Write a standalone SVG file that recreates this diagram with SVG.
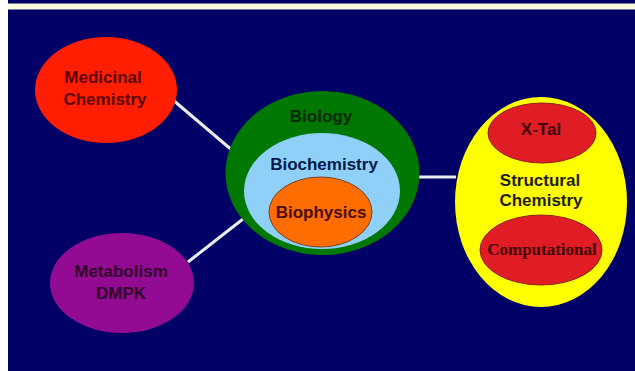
<svg xmlns="http://www.w3.org/2000/svg" width="635" height="371" viewBox="0 0 635 371">
<style>
text{font-family:"Liberation Sans",Arial,sans-serif;font-weight:bold;font-size:17px;text-anchor:middle}
.serif{font-family:"Liberation Serif","Times New Roman",serif}
.conn{stroke:#ececf4;stroke-width:3;fill:none}
</style>
<rect x="0" y="0" width="635" height="371" fill="#ffffff"/>
<rect x="8" y="0" width="627" height="371" fill="#000066"/>
<rect x="8" y="3.5" width="627" height="6" fill="#fafadc"/>
<g id="connectors">
<line class="conn" x1="173" y1="100" x2="233" y2="151"/>
<line class="conn" x1="188" y1="262" x2="243" y2="219"/>
<line class="conn" x1="417" y1="177" x2="456" y2="177"/>
</g>
<g id="medicinal">
<ellipse cx="106" cy="90" rx="71" ry="53" fill="#ff1e00"/>
<text x="103" y="83" fill="#5a0000">Medicinal</text>
<text x="105" y="105" fill="#5a0000">Chemistry</text>
</g>
<g id="metabolism">
<ellipse cx="122" cy="283" rx="72" ry="50" fill="#920b92"/>
<text x="121" y="277" fill="#30002a">Metabolism</text>
<text x="121" y="299" fill="#30002a">DMPK</text>
</g>
<g id="biology">
<ellipse cx="322.5" cy="173" rx="97" ry="82" fill="#007800"/>
<text x="321" y="122" fill="#002800">Biology</text>
</g>
<g id="biochemistry">
<ellipse cx="322" cy="191" rx="78" ry="58" fill="#8fd0f8"/>
<text x="324" y="170" fill="#001a4a">Biochemistry</text>
</g>
<g id="biophysics">
<ellipse cx="320.5" cy="212" rx="51.5" ry="35" fill="#ff6c00" stroke="#7a4020" stroke-width="1"/>
<text x="321" y="218" fill="#4a0c00">Biophysics</text>
</g>
<g id="structural">
<ellipse cx="541" cy="202" rx="86" ry="105" fill="#ffff00"/>
<text x="540" y="186" fill="#1e1e10">Structural</text>
<text x="541" y="206" fill="#1e1e10">Chemistry</text>
</g>
<g id="xtal">
<ellipse cx="542" cy="133" rx="54" ry="30" fill="#e01c24" stroke="#902020" stroke-width="1"/>
<text x="541" y="135" fill="#400000">X-Tal</text>
</g>
<g id="computational">
<ellipse cx="541" cy="250" rx="61" ry="35" fill="#e01c24" stroke="#902020" stroke-width="1"/>
<text class="serif" x="542" y="255" fill="#400000">Computational</text>
</g>
</svg>
